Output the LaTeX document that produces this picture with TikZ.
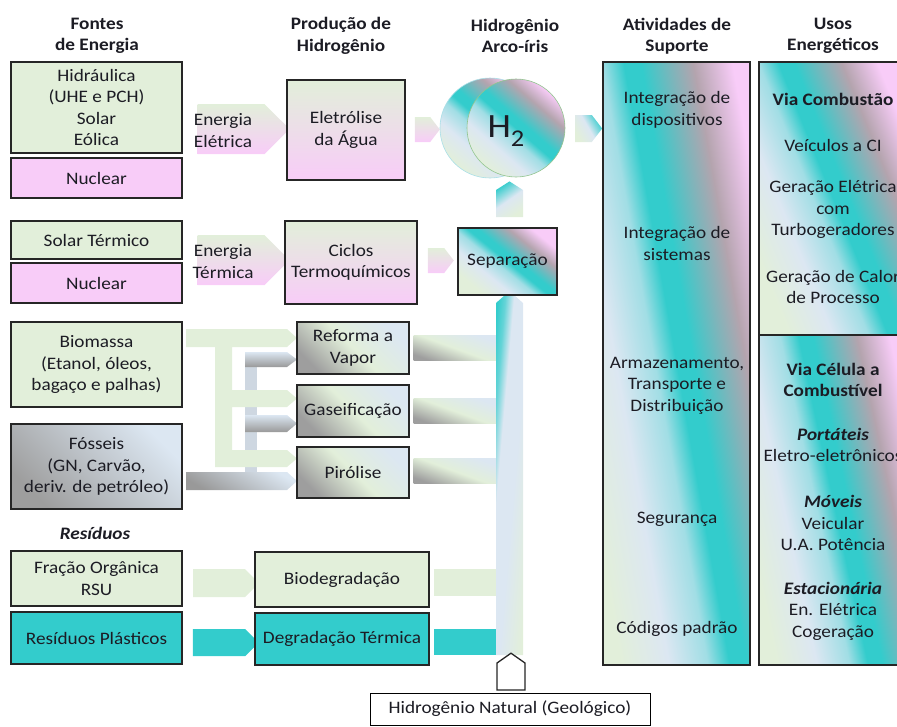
\documentclass[tikz,border=0pt]{standalone}
\usepackage{fontspec}
\setmainfont{Carlito}[FakeStretch=1.1]
\usetikzlibrary{shapes.symbols,calc}

\definecolor{lgreen}{RGB}{226,239,218}
\definecolor{lpink}{RGB}{248,204,248}
\definecolor{lblue}{RGB}{220,231,242}
\definecolor{aqua}{RGB}{51,204,204}
\definecolor{mauve}{RGB}{180,164,174}
\definecolor{fgray}{RGB}{158,158,158}
\definecolor{ink}{RGB}{28,28,36}

\pgfdeclareverticalshading{rainbow}{100bp}{color(0bp)=(lgreen); color(25bp)=(lgreen); color(36bp)=(lblue); color(45bp)=(aqua!35!lblue); color(50bp)=(aqua); color(54bp)=(aqua); color(61bp)=(aqua!40!mauve); color(66bp)=(mauve); color(75bp)=(lpink); color(100bp)=(lpink)}
\pgfdeclareverticalshading{barshade}{100bp}{color(0bp)=(lgreen); color(25bp)=(lgreen); color(45bp)=(lblue); color(60bp)=(lblue); color(68bp)=(aqua!70!lblue); color(75bp)=(aqua); color(100bp)=(aqua)}

\newcommand\bfont{\fontsize{17.5}{21.5}\selectfont}

\tikzset{
  box/.style={draw=black!85,line width=1.4pt,inner sep=0pt,align=center},
  srcg/.style={box,fill=lgreen},
  srcp/.style={box,fill=lpink},
  srct/.style={box,fill=aqua},
  greenpink/.style={top color=lgreen,bottom color=lpink},
  procgray/.style={box,top color=lblue,bottom color=fgray,middle color=lgreen,shading angle=-45},
  procbar/.style={top color=lblue,bottom color=fgray,middle color=lgreen,shading angle=-20},
  grayarm/.style={top color=lblue,bottom color=black!40},
  rainbowfill/.style={shade,shading=rainbow,shading angle=#1},
  rainbowfill/.default=-41,
  chev/.style={signal,signal to=east,inner sep=0pt,draw=none},
  upchev/.style={signal,signal to=north,inner sep=0pt,draw=none},
  hdr/.style={font=\bfont\bfseries,align=center},
  txt/.style={align=center,inner sep=0pt},
}

\begin{document}
\begin{tikzpicture}[x=1pt,y=-1pt,every node/.append style={font=\bfont,text=ink}]
\useasboundingbox (0,0) rectangle (897,726);
\clip (0,0) rectangle (897,726);

% column titles
\node[hdr] (hfon) at (97,36) {Fontes\\de Energia};
\node[hdr] (hpro) at (341,36) {Produção de\\Hidrogênio};
\node[hdr] (harc) at (515,36) {Hidrogênio\\Arco-íris};
\node[hdr] (hsup) at (677,36) {Atividades de\\Suporte};
\node[hdr] (huso) at (833,36) {Usos\\Energéticos};

% sources
\node[srcg,minimum width=171,minimum height=91] (hid) at (96.5,107.5) {Hidráulica\\(UHE e PCH)\\Solar\\Eólica};
\node[srcp,minimum width=171,minimum height=40] (nuc1) at (96.5,178) {Nuclear};
\node[srcg,minimum width=171,minimum height=38] (sot) at (96.5,240) {Solar Térmico};
\node[srcp,minimum width=171,minimum height=40] (nuc2) at (96.5,283) {Nuclear};
\node[srcg,minimum width=171,minimum height=85] (bio) at (96.5,364.5) {Biomassa\\(Etanol, óleos,\\bagaço e palhas)};
\node[box,top color=lblue,bottom color=fgray,shading angle=-45,minimum width=171,minimum height=85] (fos) at (96.5,466.5) {Fósseis\\(GN, Carvão,\\deriv. de petróleo)};
\node[font=\bfont\bfseries\itshape] (res) at (95,533) {Resíduos};
\node[srcg,minimum width=171,minimum height=55] (fra) at (96.5,578.5) {Fração Orgânica\\RSU};
\node[srct,minimum width=171,minimum height=52] (pla) at (96.5,638) {Resíduos Plásticos};

% energy arrows
\node[chev,greenpink,minimum width=92,minimum height=50] (aee) at (231,129) {};
\node[txt] (tee) at (223,130.5) {Energia\\Elétrica};
\node[chev,greenpink,minimum width=92,minimum height=50] (aet) at (231,260) {};
\node[txt] (tet) at (223,261.5) {Energia\\Térmica};

% biomass and fossil feeds
\fill[lblue!85!gray] (245,352) rectangle (257,490);
\shade[grayarm] (245,352) -- (287,352) -- (297,359.5) -- (287,367) -- (245,367) -- cycle;
\shade[grayarm] (245,415) -- (287,415) -- (297,423.5) -- (287,432) -- (245,432) -- cycle;
\shade[grayarm,shading angle=-30] (186,472) -- (287,472) -- (297,481) -- (287,490) -- (186,490) -- cycle;
\fill[lgreen] (186,329) -- (287,329) -- (297,338) -- (287,347) -- (232,347) -- (232,390) -- (287,390)
  -- (297,398.5) -- (287,407) -- (232,407) -- (232,450) -- (287,450) -- (297,458.5) -- (287,467)
  -- (215,467) -- (215,347) -- (186,347) -- cycle;
\node[chev,fill=lgreen,minimum width=66,minimum height=28] (afra) at (219,583) {};
\node[chev,fill=aqua,minimum width=66,minimum height=27] (apla) at (219,642.5) {};

% production
\node[box,greenpink,minimum width=118,minimum height=100] (ele) at (346,130) {Eletrólise\\da Água};
\node[box,greenpink,minimum width=132,minimum height=83] (cic) at (351,262.5) {Ciclos\\Termoquímicos};
\node[procgray,minimum width=112,minimum height=52] (ref) at (353,348) {Reforma a\\Vapor};
\node[procgray,minimum width=112,minimum height=52] (gas) at (353,411) {Gaseificação};
\node[procgray,minimum width=112,minimum height=51] (pir) at (353,472.5) {Pirólise};
\node[srcg,minimum width=174,minimum height=55] (bdg) at (342,579.5) {Biodegradação};
\node[srct,minimum width=174,minimum height=52] (dgt) at (342,639) {Degradação Térmica};

% collector
\node[upchev,shade,shading=barshade,shading angle=85,signal pointer angle=97,minimum width=27,minimum height=352] (vbar) at (509.5,479) {};
\shade[procbar] ($(ref.east)+(4,-12.5)$) rectangle ($(vbar.west|-ref.east)+(0,12.5)$);
\shade[procbar] ($(gas.east)+(4,-12.5)$) rectangle ($(vbar.west|-gas.east)+(0,12.5)$);
\shade[procbar] ($(pir.east)+(4,-14)$) rectangle ($(vbar.west|-pir.east)+(0,11)$);
\fill[lgreen] ($(bdg.east)+(4,-10.5)$) rectangle ($(vbar.west|-bdg.east)+(0,16.5)$);
\fill[aqua] ($(dgt.east)+(4,-10)$) rectangle ($(vbar.west|-dgt.east)+(0,16)$);
\node[upchev,draw=black!85,line width=1.3pt,fill=white,signal pointer angle=110,minimum width=28,minimum height=27] (anat) at (511,676.5) {};
\node[draw=black,line width=0.9pt,fill=white,inner sep=0pt,minimum width=280,minimum height=32] (nat) at (510,709) {Hidrogênio Natural (Geológico)};

% separation and H2
\node[box,rainbowfill=-39,minimum width=99,minimum height=67] (sep) at (507.5,261.5) {Separação};
\node[chev,greenpink,signal pointer angle=105,minimum width=25,minimum height=25] (aeh) at (422.5,129.5) {};
\node[chev,greenpink,signal pointer angle=105,minimum width=26,minimum height=25] (acs) at (436,260.5) {};
\node[upchev,top color=aqua,bottom color=lgreen,middle color=lblue,shading angle=35,signal pointer angle=115,minimum width=27,minimum height=27] (asp) at (509.5,203.5) {};
\node[circle,draw=lblue!70!aqua,line width=0.6pt,rainbowfill,inner sep=0pt,minimum size=100] (hl) at (490,128) {};
\node[circle,draw=lgreen!70!green!60!gray,line width=0.6pt,rainbowfill,inner sep=0pt,minimum size=98] (hr) at (516,128) {};
\node[inner sep=0pt] (h2) at (506,131) {\fontsize{34}{36}\selectfont H\raisebox{-0.25em}{\fontsize{24}{26}\selectfont 2}};
\node[chev,top color=aqua,bottom color=lgreen,middle color=lblue,shading angle=-60,signal pointer angle=105,minimum width=27,minimum height=27] (ahs) at (583.5,128.5) {};

% support activities
\node[box,rainbowfill=-80,minimum width=147,minimum height=603] (sup) at (676.5,363.5) {};
\node[txt] (s1) at (677,110) {Integração de\\dispositivos};
\node[txt] (s2) at (677,243.5) {Integração de\\sistemas};
\node[txt] (s3) at (677,385.5) {Armazenamento,\\Transporte e\\Distribuição};
\node[txt] (s4) at (677,519) {Segurança};
\node[txt] (s5) at (677,629) {Códigos padrão};

% energy uses
\node[box,rainbowfill=-68,minimum width=148,minimum height=273] (uc) at (833,198.5) {};
\node[box,rainbowfill=-78,minimum width=148,minimum height=330] (uf) at (833,500) {};
\node[txt,font=\bfont\bfseries] (u1) at (833,99) {Via Combustão};
\node[txt] (u2) at (833,145) {Veículos a CI};
\node[txt] (u3) at (833,209.5) {Geração Elétrica\\com\\Turbogeradores};
\node[txt] (u4) at (833,287) {Geração de Calor\\de Processo};
\node[txt,font=\bfont\bfseries] (u5) at (833,380) {Via Célula a\\Combustível};
\node[txt] (u6) at (833,445) {{\bfseries\itshape Portáteis}\\Eletro-eletrônicos};
\node[txt] (u7) at (833,523) {{\bfseries\itshape Móveis}\\Veicular\\U.A. Potência};
\node[txt] (u8) at (833,611) {{\bfseries\itshape Estacionária}\\En. Elétrica\\Cogeração};
\end{tikzpicture}
\end{document}
